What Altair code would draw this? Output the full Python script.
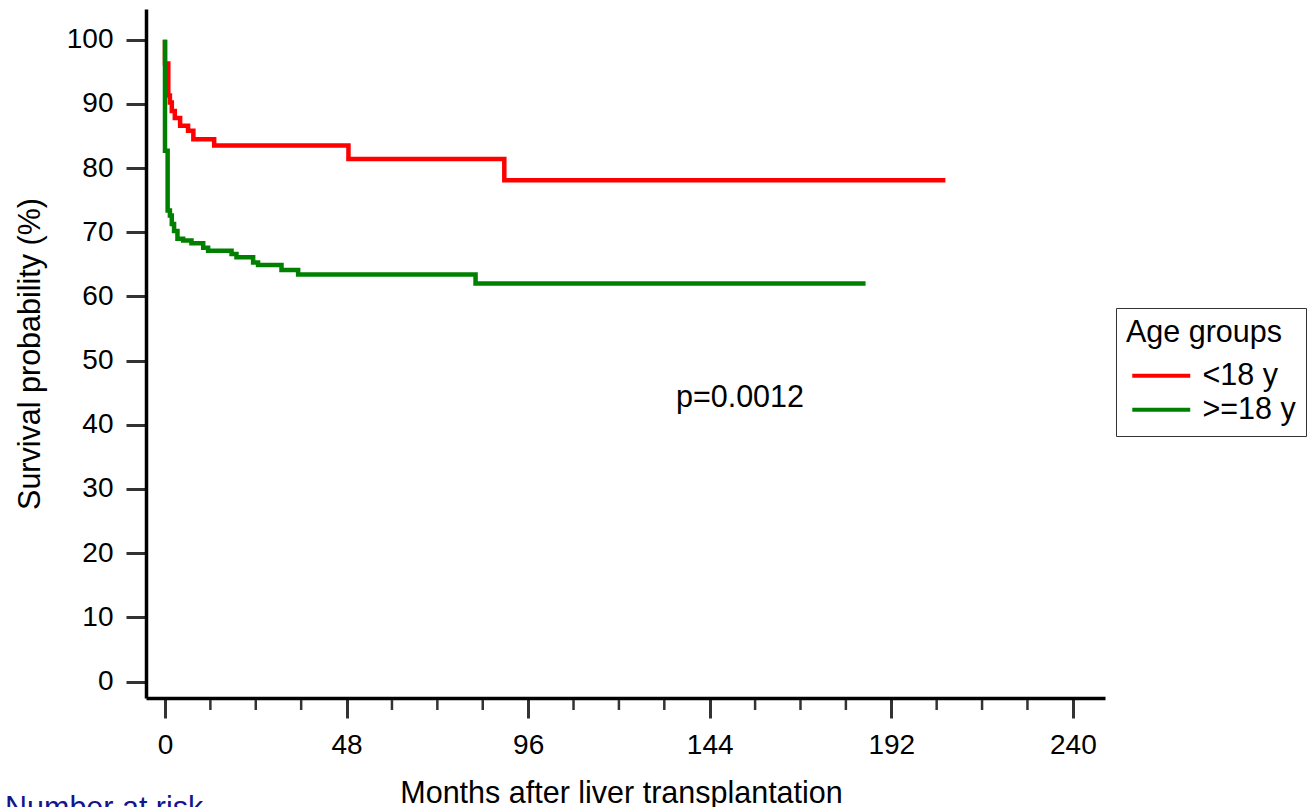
import altair as alt
import pandas as pd

# Kaplan-Meier survival after liver transplantation by recipient age group
groups = ["<18 y", ">=18 y"]
group_colors = ["#ff0000", "#008000"]

young_months = [0, 0, 0.87, 1.3, 1.8, 2.6, 4.0, 6.1, 7.5, 13.0, 48.5, 89.7, 206.3]
young_surv = [100, 96.3, 91.3, 90.2, 88.9, 87.8, 86.6, 85.8, 84.5, 83.5, 81.4, 78.1, 78.1]

adult_months = [0, 0, 0.7, 1.3, 1.8, 2.4, 3.3, 4.8, 7.0, 10.1, 11.4, 17.6, 18.9,
                23.3, 24.6, 30.8, 35.2, 82.1, 185.2]
adult_surv = [100, 82.7, 73.4, 72.6, 71.3, 70.2, 69.0, 68.7, 68.3, 67.6, 67.1, 66.6, 66.1,
              65.3, 64.9, 64.1, 63.4, 62.0, 62.0]

x_major = [0, 48, 96, 144, 192, 240]
x_minor = [12, 24, 36, 60, 72, 84, 108, 120, 132, 156, 168, 180, 204, 216, 228]
y_ticks = [0, 10, 20, 30, 40, 50, 60, 70, 80, 90, 100]

p_text = ["p=0.0012"]
p_month = [152]
p_surv = [44.1]

FONT = "Liberation Sans"
FS_TICK = 28
FS = 30.5
W, H = 959, 689

rows = []
for g, ms, ss in [(groups[0], young_months, young_surv), (groups[1], adult_months, adult_surv)]:
    for i, (m, s) in enumerate(zip(ms, ss)):
        rows.append({"group": g, "month": m, "surv": s, "idx": i})
curves = pd.DataFrame(rows)

xscale = alt.Scale(domain=[-5.02, 248.5], nice=False, zero=False)
yscale = alt.Scale(domain=[-2.57, 104.78], nice=False, zero=False)

x_axis = alt.Axis(values=x_major, title="Months after liver transplantation",
                  tickSize=20, labelPadding=13, titlePadding=19, titleX=475)
y_axis = alt.Axis(values=y_ticks, title="Survival probability (%)",
                  tickSize=20, labelPadding=13, titlePadding=21)

lines = alt.Chart(curves).mark_line(interpolate="step-after", strokeWidth=4.5).encode(
    x=alt.X("month:Q", scale=xscale, axis=x_axis),
    y=alt.Y("surv:Q", scale=yscale, axis=y_axis),
    color=alt.Color(
        "group:N",
        scale=alt.Scale(domain=groups, range=group_colors),
        legend=alt.Legend(
            title="Age groups", orient="none", legendX=970, legendY=299,
            symbolType="M-4,0H4", symbolSize=210, symbolStrokeWidth=4,
            symbolOffset=20, labelOffset=26, rowPadding=3, titlePadding=12,
            padding=10, strokeColor="#333333",
            titleFontSize=FS, labelFontSize=FS, titleFontWeight="normal",
            titleColor="black", labelColor="black", titleFont=FONT, labelFont=FONT,
        ),
    ),
    order=alt.Order("idx:Q"),
)

minor = alt.Chart(pd.DataFrame({"month": x_minor})).mark_rule(
    color="#333333", strokeWidth=2.5
).encode(
    x=alt.X("month:Q", scale=xscale),
    y=alt.value(H + 2),
    y2=alt.value(H + 12),
)

pval = alt.Chart(pd.DataFrame({"label": p_text, "month": p_month, "surv": p_surv})).mark_text(
    font=FONT, fontSize=FS, align="center", baseline="middle", color="black"
).encode(
    x=alt.X("month:Q", scale=xscale),
    y=alt.Y("surv:Q", scale=yscale),
    text="label:N",
)

risk = alt.Chart(pd.DataFrame({"label": ["Number at risk"]})).mark_text(
    font=FONT, fontSize=FS, align="left", baseline="alphabetic", color="#14148c"
).encode(
    x=alt.value(-141),
    y=alt.value(809),
    text="label:N",
)

chart = alt.layer(minor, lines, pval, risk).properties(
    width=W, height=H,
    background="white",
    autosize=alt.AutoSizeParams(type="none"),
    padding={"left": 146, "top": 9, "right": 1316 - 146 - W, "bottom": 807 - 9 - H},
).configure_view(stroke=None).configure_axis(
    grid=False, domainColor="black", domainWidth=3.5, tickColor="#333333", tickWidth=3,
    labelFont=FONT, titleFont=FONT, labelFontSize=FS_TICK, titleFontSize=FS,
    labelColor="black", titleColor="black", titleFontWeight="normal",
)

chart.save("out.html", embed_options={"renderer": "svg", "actions": False})
